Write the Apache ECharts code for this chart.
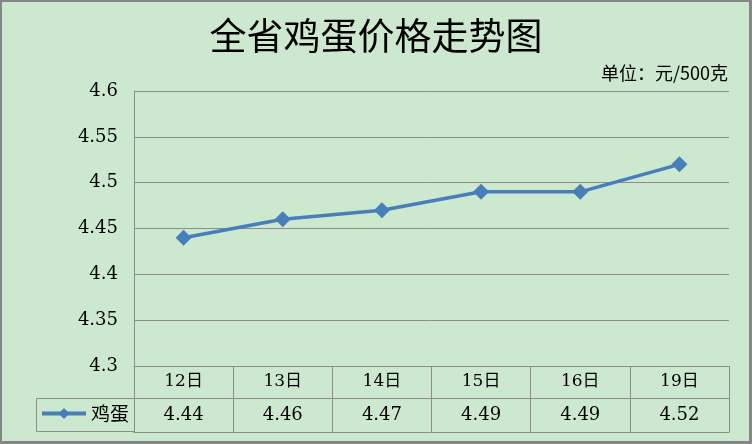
<!DOCTYPE html>
<html>
<head>
<meta charset="utf-8">
<script src="https://cdn.jsdelivr.net/npm/echarts@6/dist/echarts.min.js"></script>
<style>
html,body{margin:0;padding:0;background:#cce8cf;}
#wrap{position:relative;width:752px;height:444px;}
#chart{position:absolute;left:0;top:0;width:752px;height:444px;}
#frame{position:absolute;left:0;top:0;width:752px;height:444px;box-sizing:border-box;border:2px solid #868686;border-right-width:3px;border-bottom-width:3px;pointer-events:none;}
</style>
</head>
<body>
<div id="wrap"><div id="chart"></div><div id="frame"></div></div>
<script>
const titleText = '全省鸡蛋价格走势图';
const unitText = '单位：元/500克';
const seriesName = '鸡蛋';
const categories = ['12日', '13日', '14日', '15日', '16日', '19日'];
const values = [4.44, 4.46, 4.47, 4.49, 4.49, 4.52];
const yMin = 4.3, yMax = 4.6, yStep = 0.05;

const serif = '"DejaVu Serif", "Noto Sans CJK SC", serif';
const cjk = '"Noto Sans CJK SC", sans-serif';
const gridColor = '#8c8c8c';
const lineColor = '#4a7ebb';

const chart = echarts.init(document.getElementById('chart'));
chart.setOption({
  backgroundColor: '#cce8cf',
  animation: false,
  title: [
    { text: titleText, left: 'center', top: 17, padding: 0,
      textStyle: { fontFamily: cjk, fontSize: 37, fontWeight: 'normal', color: '#000' } },
    { text: unitText, right: 24, top: 64, padding: 0,
      textStyle: { fontFamily: cjk, fontSize: 18, fontWeight: 'normal', color: '#000' } }
  ],
  legend: {
    data: [seriesName], left: 40, top: 404, padding: 0,
    itemWidth: 44, itemHeight: 14, itemGap: 4,
    lineStyle: { width: 4 },
    textStyle: { fontFamily: cjk, fontSize: 19, color: '#000' }
  },
  grid: { left: 134, right: 23, top: 91, bottom: 78, containLabel: false },
  xAxis: [
    { type: 'category', data: categories, boundaryGap: true, position: 'bottom',
      axisLine: { show: true, lineStyle: { color: gridColor, width: 1 } },
      axisTick: { show: true, length: 66, lineStyle: { color: gridColor, width: 1 } },
      axisLabel: { margin: 7, fontFamily: serif, fontSize: 17, color: '#000' },
      splitLine: { show: false } },
    { type: 'category', data: values.map(v => v.toFixed(2)), boundaryGap: true, position: 'bottom', offset: 32,
      axisLine: { show: true, lineStyle: { color: gridColor, width: 1 } },
      axisTick: { show: false },
      axisLabel: { margin: 8, fontFamily: serif, fontSize: 18, color: '#000' },
      splitLine: { show: false } },
    { type: 'category', data: categories, boundaryGap: true, position: 'bottom', offset: 66,
      axisLine: { show: true, lineStyle: { color: gridColor, width: 1 } },
      axisTick: { show: false }, axisLabel: { show: false }, splitLine: { show: false } }
  ],
  yAxis: {
    type: 'value', min: yMin, max: yMax, interval: yStep,
    axisLine: { show: true, lineStyle: { color: gridColor, width: 1 } },
    axisTick: { show: false },
    axisLabel: { margin: 16, fontFamily: serif, fontSize: 18, color: '#000',
      formatter: v => String(Math.round(v * 100) / 100) },
    splitLine: { show: true, lineStyle: { color: gridColor, width: 1 } }
  },
  graphic: [
    { type: 'rect', shape: { x: 36.5, y: 398.5, width: 98, height: 33 },
      style: { fill: 'none', stroke: gridColor, lineWidth: 1 }, silent: true }
  ],
  series: [{
    name: seriesName, type: 'line', data: values, xAxisIndex: 0,
    symbol: 'diamond', symbolSize: 16,
    lineStyle: { color: lineColor, width: 3.5 },
    itemStyle: { color: lineColor }
  }]
});
</script>
</body>
</html>
